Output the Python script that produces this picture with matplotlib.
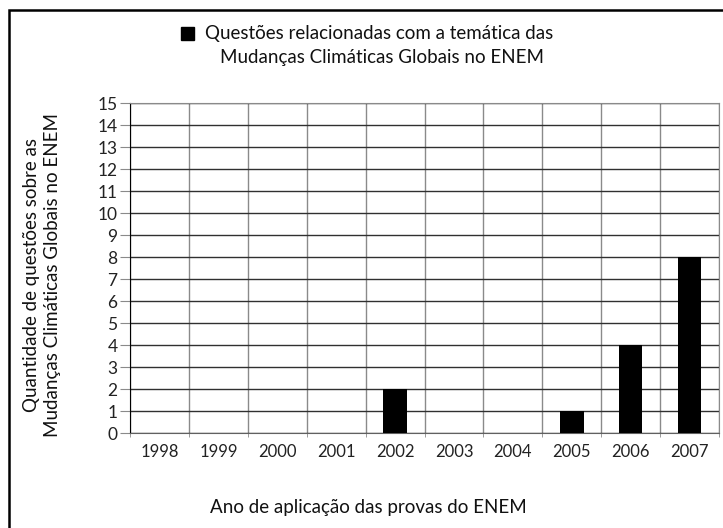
import numpy as np
import matplotlib.pyplot as plt
from matplotlib.patches import Rectangle

plt.rcParams['font.family'] = ['Lato', 'DejaVu Sans']

anos = ['1998', '1999', '2000', '2001', '2002', '2003', '2004', '2005', '2006', '2007']
questoes = [0, 0, 0, 0, 2, 0, 0, 1, 4, 8]
legenda_1 = 'Questões relacionadas com a temática das'
legenda_2 = 'Mudanças Climáticas Globais no ENEM'
rotulo_y = 'Quantidade de questões sobre as\nMudanças Climáticas Globais no ENEM'
rotulo_x = 'Ano de aplicação das provas do ENEM'

W, H = 723, 528
fig = plt.figure(figsize=(W / 100, H / 100), dpi=100)
# plot area in pixels: x 130..719, y 103..433
ax = fig.add_axes([130 / W, 1 - 433 / H, (719 - 130) / W, (433 - 103) / H])

x = np.arange(len(anos))
ax.bar(x, questoes, width=0.4, color='black', zorder=3)

ax.set_xlim(-0.5, len(anos) - 0.5)
ax.set_ylim(0, 15)
ax.set_yticks(range(0, 16))
ax.set_xticks(x)
ax.set_xticklabels(anos)
ax.set_xticks(np.arange(-0.5, len(anos)), minor=True)

ax.grid(axis='y', which='major', color='#303030', lw=1.0, zorder=0)
ax.grid(axis='x', which='minor', color='#8a8a8a', lw=1.0, zorder=0)
ax.tick_params(axis='y', length=7, color='#8a8a8a', labelsize=12.5, pad=2, labelcolor='#222222')
ax.tick_params(axis='x', which='major', length=0, labelsize=12, pad=8, labelcolor='#222222')
ax.tick_params(axis='x', which='minor', length=3, color='#8a8a8a')

for s in ['top', 'right']:
    ax.spines[s].set_color('#8a8a8a')
ax.spines['left'].set_color('black')
ax.spines['bottom'].set_color('#606060')

# legend
fig.patches.append(Rectangle((181 / W, 1 - 40 / H), 13 / W, 13 / H, transform=fig.transFigure,
                             facecolor='black', edgecolor='black'))
fig.text(205 / W, 1 - 34 / H, legenda_1, fontsize=13.5, va='center', ha='left', color='#111111')
fig.text(382 / W, 1 - 58 / H, legenda_2, fontsize=13.5, va='center', ha='center', color='#111111')

fig.text(42 / W, 1 - 275 / H, rotulo_y, fontsize=13.5, rotation=90, va='center', ha='center',
         multialignment='center', color='#111111', linespacing=1.3)
fig.text(368 / W, 1 - 508 / H, rotulo_x, fontsize=13.5, va='center', ha='center', color='#111111')

# outer frame
fig.patches.append(Rectangle((9 / W, -0.1), 1.2, 1 - 10 / H + 0.1, transform=fig.transFigure,
                             facecolor='none', edgecolor='black', lw=1.8))

fig.savefig('out.png', dpi=100)
